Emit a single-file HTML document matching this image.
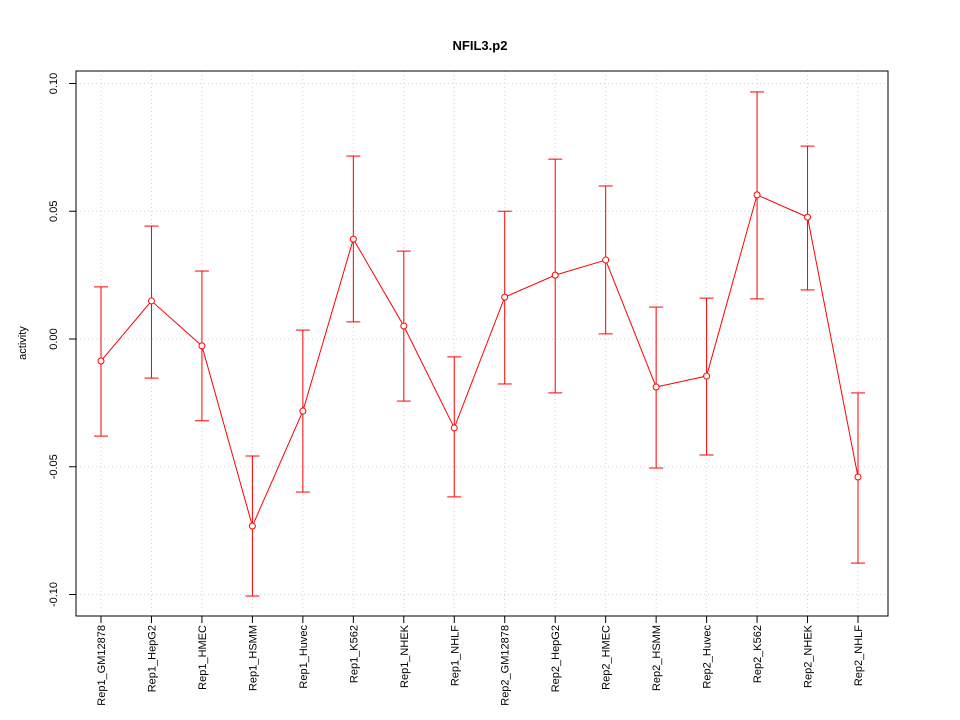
<!DOCTYPE html>
<html><head><meta charset="utf-8"><style>
body{margin:0;background:#fff;}
svg{display:block;font-family:"Liberation Sans",sans-serif;}
</style></head><body>
<svg id="chart" width="960" height="720"></svg>
<script>
const categories=["Rep1_GM12878","Rep1_HepG2","Rep1_HMEC","Rep1_HSMM","Rep1_Huvec","Rep1_K562","Rep1_NHEK","Rep1_NHLF","Rep2_GM12878","Rep2_HepG2","Rep2_HMEC","Rep2_HSMM","Rep2_Huvec","Rep2_K562","Rep2_NHEK","Rep2_NHLF"];
const values=[-0.0086,0.0149,-0.0027,-0.0732,-0.0282,0.0391,0.0051,-0.0348,0.0164,0.0250,0.0309,-0.0188,-0.0145,0.0564,0.0477,-0.0540];
const upper=[0.0204,0.0442,0.0266,-0.0458,0.0035,0.0716,0.0344,-0.0070,0.0500,0.0704,0.0599,0.0125,0.0160,0.0967,0.0755,-0.0211];
const lower=[-0.0380,-0.0153,-0.0320,-0.1006,-0.0599,0.0067,-0.0243,-0.0618,-0.0176,-0.0211,0.0020,-0.0505,-0.0454,0.0157,0.0192,-0.0877];
const yTicks=[-0.10,-0.05,0.00,0.05,0.10];
const yTickLabels=["-0.10","-0.05","0.00","0.05","0.10"];

const svg=document.getElementById('chart');
const NS='http://www.w3.org/2000/svg';
function mk(tag,attrs,parent){const e=document.createElementNS(NS,tag);for(const k in attrs)e.setAttribute(k,attrs[k]);(parent||svg).appendChild(e);return e;}
const L=76,R=888,T=71,B=616;
const y=v=>339-v*2555;
const x=i=>101+i*(807-101)/(categories.length-1+0)*(categories.length-1)/(categories.length-1)*(757/807>0?1:1)*((858-101)/(807-101))/(categories.length-1)*(categories.length-1)/1;
function xp(i){return 101+i*(858-101)/(categories.length-1);}

let t=mk('text',{x:480,y:50,'text-anchor':'middle','font-size':13,'font-weight':'bold'});t.textContent='NFIL3.p2';



const grid=mk('g',{stroke:'#d3d3d3','stroke-dasharray':'1,3','stroke-width':1});


categories.forEach((c,i)=>mk('line',{x1:xp(i),x2:xp(i),y1:T,y2:B},grid));
yTicks.forEach(v=>mk('line',{x1:L,x2:R,y1:y(v),y2:y(v)},grid));

const frame=mk('rect',{x:L,y:T,width:R-L,height:B-T,fill:'none',stroke:'#000'});



const ya=mk('g',{});


mk('line',{x1:L,x2:L,y1:y(yTicks[0]),y2:y(yTicks[yTicks.length-1]),stroke:'#000'},ya);
yTicks.forEach((v,k)=>{
 mk('line',{x1:L-7,x2:L,y1:y(v),y2:y(v),stroke:'#000'},ya);
 const tx=mk('text',{x:57,y:y(v),'font-size':11,'text-anchor':'middle',transform:`rotate(-90 57 ${y(v)})`},ya);
 tx.textContent=yTickLabels[k];
});
const yt=mk('text',{x:26,y:343,'font-size':11,'text-anchor':'middle',transform:'rotate(-90 26 343)'});
yt.textContent='activity';



const xa=mk('g',{});


mk('line',{x1:xp(0),x2:xp(categories.length-1),y1:B,y2:B,stroke:'#000'},xa);
categories.forEach((c,i)=>{
 mk('line',{x1:xp(i),x2:xp(i),y1:B,y2:B+7,stroke:'#000'},xa);
 const tx=mk('text',{x:xp(i)+4,y:625,'font-size':11,'text-anchor':'end',transform:`rotate(-90 ${xp(i)+4} 625)`},xa);
 tx.textContent=c;
});

const ser=mk('g',{stroke:'#ff0000',fill:'none'});


categories.forEach((c,i)=>{
 const eb=mk('g',{},ser);
 
 
 mk('line',{x1:xp(i),x2:xp(i),y1:y(upper[i]),y2:y(lower[i])},eb);
 mk('line',{x1:xp(i)-7,x2:xp(i)+7,y1:y(upper[i]),y2:y(upper[i])},eb);
 mk('line',{x1:xp(i)-7,x2:xp(i)+7,y1:y(lower[i]),y2:y(lower[i])},eb);
});
const pl=mk('polyline',{points:values.map((v,i)=>xp(i)+','+y(v)).join(' ')},ser);


values.forEach((v,i)=>{
 const p=mk('circle',{cx:xp(i),cy:y(v),r:3,fill:'#fff'},ser);
 
 
});
</script>
</body></html>
